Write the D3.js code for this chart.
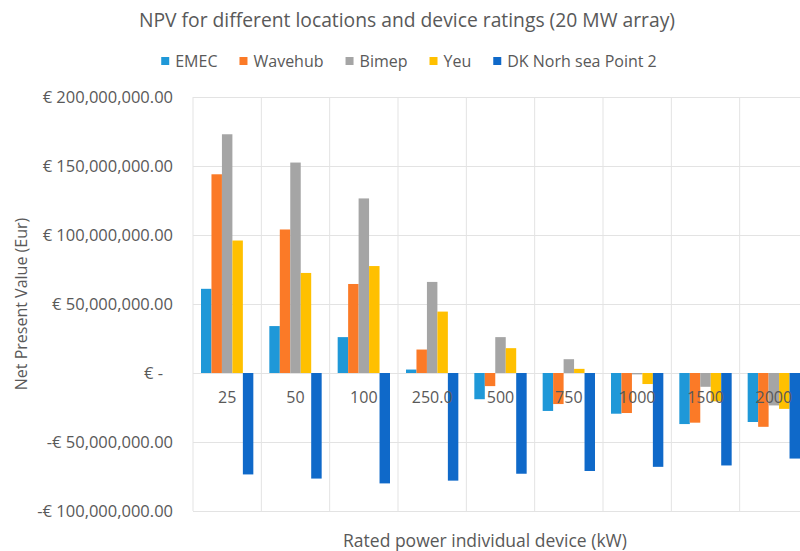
<!DOCTYPE html>
<html>
<head>
<meta charset="utf-8">
<script src="https://cdn.jsdelivr.net/npm/d3@7"></script>
<style>
  body { margin: 0; background: #fff; }
  text { font-family: "Open Sans", sans-serif; fill: #595959; }
</style>
</head>
<body>
<div id="chart"></div>
<script>
// data (values in Eur)
const categories = ["25", "50", "100", "250.0", "500", "750", "1000", "1500", "2000"];
const seriesNames = ["EMEC", "Wavehub", "Bimep", "Yeu", "DK Norh sea Point 2"];
const emec    = [61e6, 34e6, 26e6, 2.5e6, -19e6, -27.5e6, -29.5e6, -37e6, -35.5e6];
const wavehub = [144e6, 104e6, 64.5e6, 17e6, -9.5e6, -22.5e6, -29e6, -36e6, -39e6];
const bimep   = [173e6, 152.5e6, 126.5e6, 66e6, 26e6, 10e6, -1e6, -10e6, -23.5e6];
const yeu     = [96e6, 72.5e6, 77.5e6, 44.5e6, 18e6, 3e6, -8e6, -20.5e6, -26e6];
const dk      = [-73.5e6, -76.5e6, -80e6, -78e6, -73e6, -71e6, -68e6, -67e6, -62e6];
const yTicks  = [-100e6, -50e6, 0, 50e6, 100e6, 150e6, 200e6];
const colors  = ["#1f98d8", "#fb7a27", "#a5a5a5", "#ffc000", "#0f69c9"];

const allSeries = [emec, wavehub, bimep, yeu, dk];

let width = 800,
    height = 551,
    margin = ({ top: 97, right: -8, bottom: 40, left: 193 }); // plot runs a bit past the right edge

const svg = d3.select("#chart")
  .append("svg")
  .attr("width", width)
  .attr("height", height);

let x0 = d3.scaleBand() // categories
  .domain(categories)
  .range([margin.left, width - margin.right]);

let x1 = d3.scaleBand() // series inside a category
  .domain(seriesNames)
  .range([8, x0.bandwidth() - 8]);

let y = d3.scaleLinear()
  .domain([-100e6, 200e6])
  .range([height - margin.bottom, margin.top]);

let color = d3.scaleOrdinal().domain(seriesNames).range(colors);

// horizontal gridlines + y labels
const fmt = d3.format(",.2f");
svg.append("g")
  .attr("class", "y-axis")
  .attr("transform", `translate(${margin.left},0)`)
  .call(d3.axisLeft(y).tickValues(yTicks)
    .tickSize(-(width - margin.right - margin.left))
    .tickPadding(20)
    .tickFormat(d => d === 0 ? "€ -" : (d < 0 ? "-" : "") + "€ " + fmt(Math.abs(d))))
  .call(g => g.select(".domain").remove())
  .call(g => g.selectAll("line").attr("stroke", "#e3e3e3"))
  .call(g => g.selectAll("text").attr("font-size", 16.5).attr("dx", d => d === 0 ? -10 : 0));

// vertical gridlines at category boundaries
svg.append("g")
  .selectAll("line")
  .data(categories)
  .join("line")
  .attr("x1", d => x0(d))
  .attr("x2", d => x0(d))
  .attr("y1", y(200e6))
  .attr("y2", y(-100e6))
  .attr("stroke", "#e3e3e3");

// bars
svg.append("g")
  .selectAll("g")
  .data(categories)
  .join("g")
  .attr("transform", d => `translate(${x0(d)},0)`)
  .selectAll("rect")
  .data((d, i) => seriesNames.map((s, j) => ({ s, v: allSeries[j][i] })))
  .join("rect")
  .attr("x", d => x1(d.s))
  .attr("width", x1.bandwidth())
  .attr("y", d => y(Math.max(0, d.v)))
  .attr("height", d => Math.abs(y(d.v) - y(0)))
  .attr("fill", d => color(d.s));

// category labels just under the zero line, on top of the bars
svg.append("g")
  .attr("class", "x-axis")
  .attr("transform", `translate(0,${y(0)})`)
  .call(d3.axisBottom(x0).tickSize(0).tickPadding(19))
  .call(g => g.select(".domain").remove())
  .call(g => g.selectAll("text").attr("font-size", 16));

// title
svg.append("text")
  .attr("x", 407)
  .attr("y", 27)
  .attr("text-anchor", "middle")
  .attr("font-size", 19.3)
  .text("NPV for different locations and device ratings (20 MW array)");

// legend
const legend = svg.append("g").attr("transform", "translate(0,67)");
let lx = 0;
const items = legend.selectAll("g")
  .data(seriesNames)
  .join("g");
items.append("rect")
  .attr("y", -10)
  .attr("width", 8)
  .attr("height", 8)
  .attr("fill", d => color(d));
items.append("text")
  .attr("x", 14)
  .attr("font-size", 16)
  .text(d => d);
items.each(function() {
  d3.select(this).attr("transform", `translate(${lx},0)`);
  lx += 14 + this.querySelector("text").getComputedTextLength() + 22;
});
legend.attr("transform", `translate(${409 - (lx - 22) / 2},67)`);

// axis titles
svg.append("text")
  .attr("x", 485)
  .attr("y", 547)
  .attr("text-anchor", "middle")
  .attr("font-size", 17.5)
  .text("Rated power individual device (kW)");

svg.append("text")
  .attr("transform", `translate(27,${(y(200e6) + y(-100e6)) / 2}) rotate(-90)`)
  .attr("text-anchor", "middle")
  .attr("font-size", 16)
  .text("Net Present Value (Eur)");
</script>
</body>
</html>
